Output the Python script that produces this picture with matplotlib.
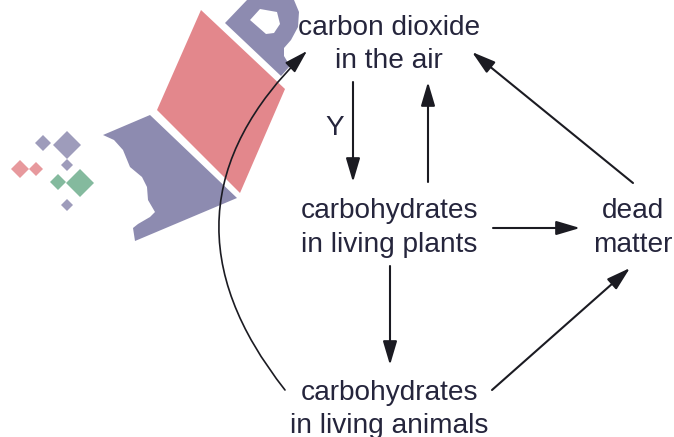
import matplotlib.pyplot as plt
from matplotlib.patches import FancyArrowPatch, Polygon, ArrowStyle

plt.rcParams["font.family"] = ["Liberation Sans", "DejaVu Sans"]

W, H = 674, 437
TEXT_C = "#25253c"
ARROW_C = "#1b1b22"

# node labels: (x centre, baseline of each line, lines)
labels = [
    (389, [35, 68], ["carbon dioxide", "in the air"]),
    (389, [218, 252], ["carbohydrates", "in living plants"]),
    (389, [400, 433], ["carbohydrates", "in living animals"]),
    (633, [218, 252], ["dead", "matter"]),
]

# straight arrows: start -> tip (pixel coords)
arrows = [
    ((353, 82), (353, 182)),
    ((428, 182), (428, 82)),
    ((633, 183), (472, 52)),
    ((493, 228), (580, 228)),
    ((390, 266), (390, 365)),
    ((492, 390), (630, 268)),
]
curve = ((285, 390), (307, 51), -0.45)

# watermark shapes
PINK = "#e3878c"
PURPLE = "#8d8bb0"
GREEN = "#6fae8d"
pink_quad = [(201, 10), (285, 89), (240, 193), (157, 110)]
purple_foot = [(103, 135), (150, 115), (237, 198), (135, 241), (133, 228), (138, 224),
               (150, 217), (155, 212), (148, 200), (147, 187), (142, 177), (130, 167),
               (123, 150), (114, 140)]
p_letter = [(225, 23), (247, 0), (294, 0), (299, 12), (298, 27), (291, 40), (284, 48),
            (284, 56), (290, 66), (281, 76)]
p_hole = [(250, 20), (260, 9), (277, 12), (280, 24), (274, 33), (266, 34)]
diamonds = [
    (43, 143, 8, PURPLE), (67, 145, 14, PURPLE), (67, 165, 6, PURPLE),
    (20, 169, 9, PINK), (36, 169, 7, PINK),
    (58, 182, 8, GREEN), (80, 183, 14, GREEN), (67, 205, 6, PURPLE),
]


def main():
    fig = plt.figure(figsize=(W / 100, H / 100), dpi=100)
    ax = fig.add_axes([0, 0, 1, 1])
    ax.set_xlim(0, W)
    ax.set_ylim(H, 0)
    ax.axis("off")

    # watermark
    ax.add_patch(Polygon(pink_quad, closed=True, fc=PINK, ec="none", zorder=1))
    ax.add_patch(Polygon(purple_foot, closed=True, fc=PURPLE, ec="none", zorder=1))
    ax.add_patch(Polygon(p_letter, closed=True, fc=PURPLE, ec="none", zorder=1))
    ax.add_patch(Polygon(p_hole, closed=True, fc="white", ec="none", zorder=1.1))
    for cx, cy, r, c in diamonds:
        ax.add_patch(Polygon([(cx, cy - r), (cx + r, cy), (cx, cy + r), (cx - r, cy)],
                             closed=True, fc=c, ec="none", alpha=0.85, zorder=1))

    for x, baselines, lines in labels:
        for yb, s in zip(baselines, lines):
            ax.text(x, yb, s, ha="center", va="baseline", fontsize=20.2,
                    color=TEXT_C, zorder=3)
    ax.text(335, 135, "Y", ha="center", va="baseline", fontsize=20.2, color=TEXT_C, zorder=3)

    style = ArrowStyle("-|>", head_length=14.5, head_width=4.3)
    for start, end in arrows:
        ax.add_patch(FancyArrowPatch(start, end, arrowstyle=style, mutation_scale=1,
                                     lw=1.5, color=ARROW_C, shrinkA=0, shrinkB=0, zorder=4))
    (s, e, rad) = curve
    ax.add_patch(FancyArrowPatch(s, e, arrowstyle=style, mutation_scale=1,
                                 connectionstyle=f"arc3,rad={rad}",
                                 lw=1.2, color=ARROW_C, shrinkA=0, shrinkB=0, zorder=4))

    fig.savefig("out.png", dpi=100)
    plt.close(fig)


if __name__ == "__main__":
    main()
